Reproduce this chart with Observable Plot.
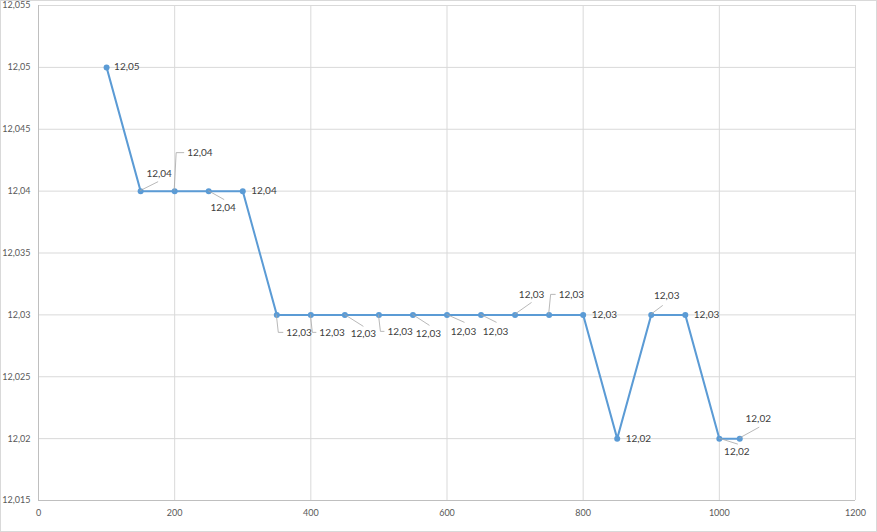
<!DOCTYPE html>
<html><head><meta charset="utf-8">
<script src="https://cdn.jsdelivr.net/npm/d3@7"></script>
<script src="https://cdn.jsdelivr.net/npm/@observablehq/plot@0.6"></script>
<style>body{margin:0;background:#fff} #chart svg{display:block}</style>
</head><body><div id="chart"></div>
<script>
// ---- data ----
const xValues = [100, 150, 200, 250, 300, 350, 400, 450, 500, 550, 600, 650, 700, 750, 800, 850, 900, 950, 1000, 1030];
const yValues = [12.05, 12.04, 12.04, 12.04, 12.04, 12.03, 12.03, 12.03, 12.03, 12.03, 12.03, 12.03, 12.03, 12.03, 12.03, 12.02, 12.03, 12.03, 12.02, 12.02];
const xTicks = [0, 200, 400, 600, 800, 1000, 1200];
const yTicks = [12.015, 12.02, 12.025, 12.03, 12.035, 12.04, 12.045, 12.05, 12.055];

// ---- label placement (layout only, pixel offsets from each point) ----
// type: r = right of point, d = diagonal leader, e = elbow leader
const labelPlacement = [
  {t:"r", dx:8, dy:0},
  {t:"d", dx:19, dy:-17, lx:18, ly:-9},
  {t:"e", dx:13, dy:-38},
  {t:"d", dx:15, dy:17, lx:16, ly:9},
  {t:"r", dx:9, dy:0},
  {t:"e", dx:10, dy:18},
  {t:"e", dx:9, dy:18},
  {t:"d", dx:19, dy:19, lx:19, ly:12},
  {t:"e", dx:9, dy:17},
  {t:"d", dx:16, dy:19, lx:17, ly:11},
  {t:"d", dx:17, dy:17, lx:18, ly:8},
  {t:"d", dx:15, dy:17, lx:16, ly:8},
  {t:"d", dx:17, dy:-20, lx:17, ly:-12},
  {t:"e", dx:10, dy:-20},
  {t:"r", dx:9, dy:0},
  {t:"r", dx:9, dy:0},
  {t:"d", dx:16, dy:-19, lx:12, ly:-9},
  {t:"r", dx:9, dy:0},
  {t:"d", dx:18, dy:13, lx:19, ly:6},
  {t:"d", dx:19, dy:-20, lx:20, ly:-11}
];

const comma = d => String(d).replace(".", ",");
const data = xValues.map((x, i) => ({x, y: yValues[i], label: yValues[i].toFixed(2).replace(".", ",")}));

const chart = Plot.plot({
  width: 877, height: 532,
  marginLeft: 38, marginRight: 22, marginTop: 5, marginBottom: 32,
  x: {domain: [0, 1200]},
  y: {domain: [12.015, 12.055]},
  style: {fontFamily: "Lato, 'Liberation Sans', sans-serif", fontSize: "9px", color: "#595959", background: "#fff"},
  marks: [
    Plot.gridX(xTicks, {stroke: "#d9d9d9", strokeOpacity: 1}),
    Plot.gridY(yTicks, {stroke: "#d9d9d9", strokeOpacity: 1}),
    Plot.ruleX([0], {stroke: "#bfbfbf"}),
    Plot.ruleY([12.015], {stroke: "#bfbfbf"}),
    Plot.axisX(xTicks, {tickSize: 0, tickPadding: 9, tickFormat: comma, fill: "#595959", label: null}),
    Plot.axisY(yTicks, {tickSize: 0, tickPadding: 8, tickFormat: comma, fill: "#595959", label: null}),
    Plot.line(data, {x: "x", y: "y", stroke: "#5b9bd5", strokeWidth: 2}),
    Plot.dot(data, {x: "x", y: "y", fill: "#5b9bd5", r: 3})
  ]
});

const svg = d3.select(chart);
const sx = chart.scale("x"), sy = chart.scale("y");
const g = svg.append("g");
data.forEach((d, i) => {
  const p = labelPlacement[i];
  const px = sx.apply(d.x), py = sy.apply(d.y);
  let tx = px + p.dx, ty = py + p.dy, anchor = "start";
  if (p.t === "d") {
    anchor = "middle";
    g.append("line").attr("x1", px).attr("y1", py).attr("x2", px + p.lx).attr("y2", py + p.ly)
      .attr("stroke", "#a6a6a6").attr("stroke-width", 0.8);
  } else if (p.t === "e") {
    const pts = [[px, py], [px + 2, ty], [tx - 3, ty]];
    g.append("polyline").attr("points", pts.map(q => q.join(",")).join(" "))
      .attr("fill", "none").attr("stroke", "#a6a6a6").attr("stroke-width", 0.8);
  }
  g.append("text").attr("x", tx).attr("y", ty).attr("dy", "0.35em")
    .attr("text-anchor", anchor).attr("fill", "#404040")
    .attr("font-family", "Lato, 'Liberation Sans', sans-serif").attr("font-size", "10px")
    .text(d.label);
});
svg.append("rect").attr("x", 0.5).attr("y", 0.5).attr("width", 876).attr("height", 531)
  .attr("fill", "none").attr("stroke", "#d9d9d9");

document.getElementById("chart").appendChild(chart);
</script>
</body></html>
